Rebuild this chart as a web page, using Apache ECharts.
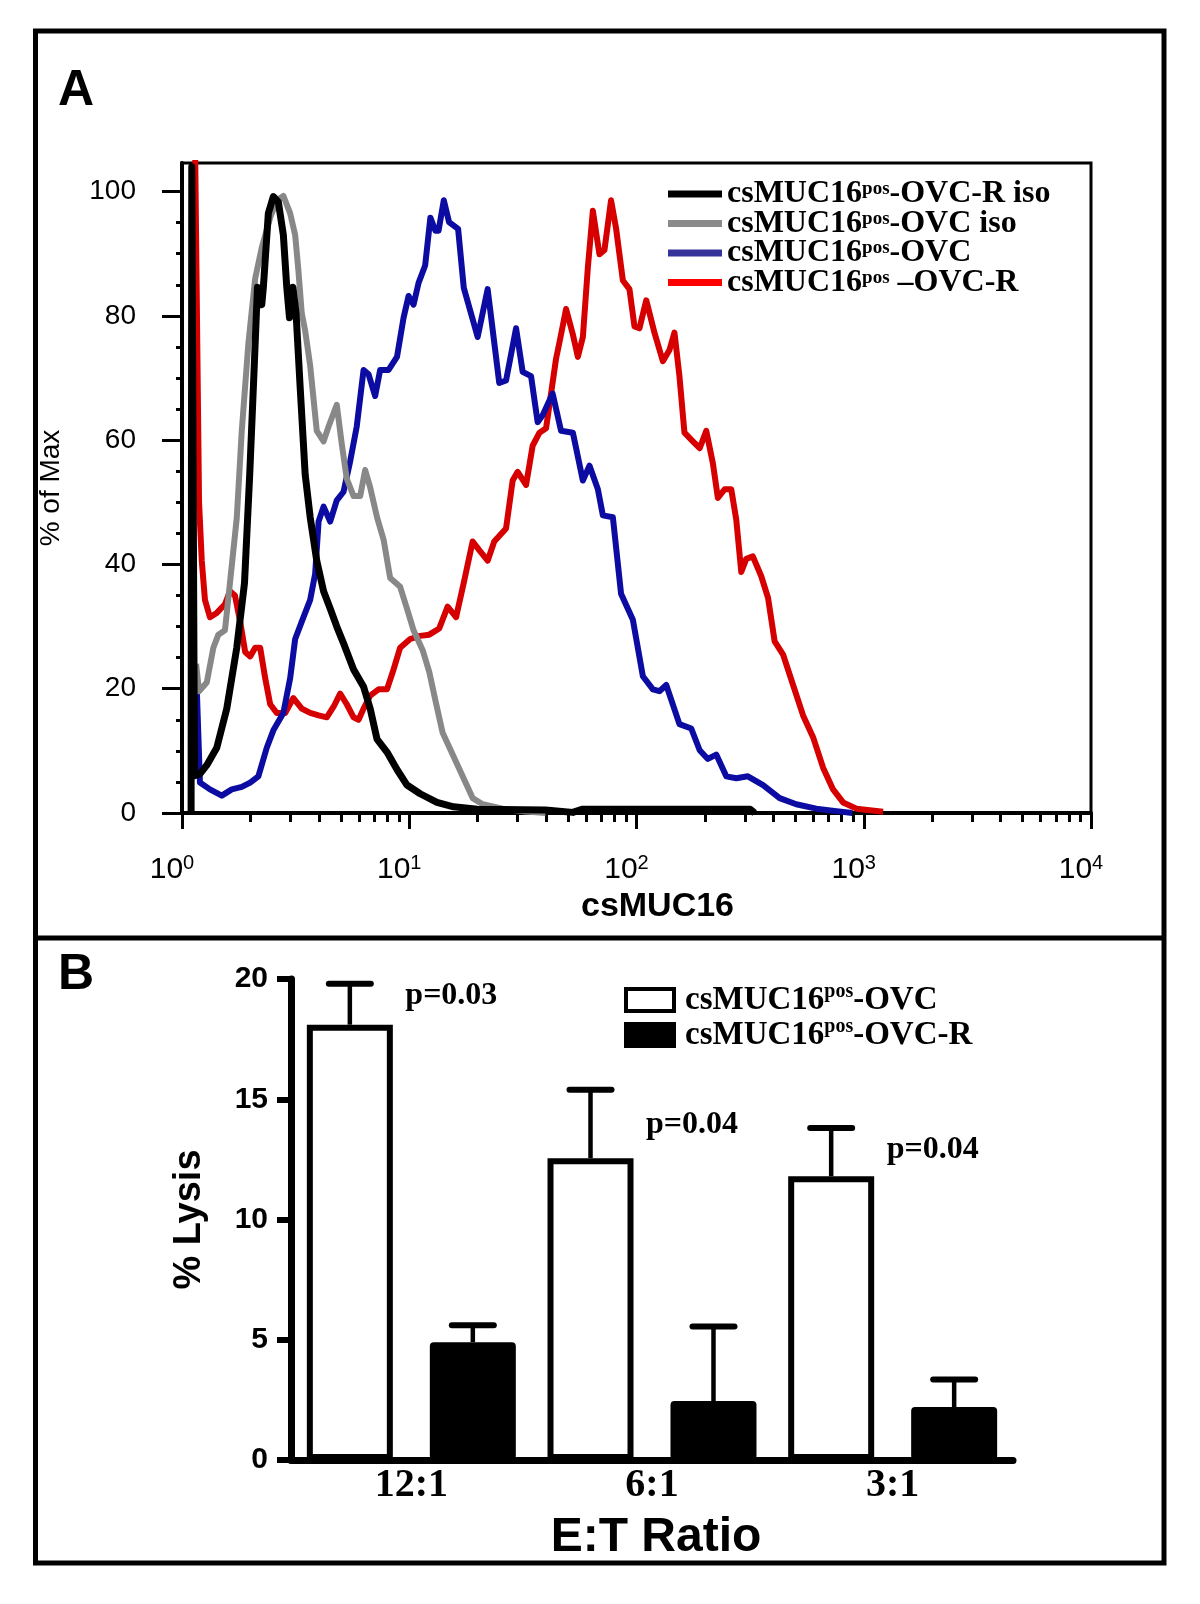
<!DOCTYPE html>
<html><head><meta charset="utf-8">
<script src="https://cdn.jsdelivr.net/npm/echarts@6/dist/echarts.min.js"></script>
<style>html,body{margin:0;padding:0;background:#fff}#c{width:1200px;height:1604px}</style>
</head><body><div id="c"></div>
<script>
const SANS = '"Liberation Sans", Arial, Helvetica, sans-serif';
const SERIF = '"Liberation Serif", "Times New Roman", Times, serif';

// ---------- Panel A : flow cytometry histograms ----------
// x = log10(csMUC16 intensity), y = % of Max
const xTickExponents = [0, 1, 2, 3, 4];
const yTicksA = [0, 20, 40, 60, 80, 100];
const yMinorTicksA = [5, 10, 15, 25, 30, 35, 45, 50, 55, 65, 70, 75, 85, 90, 95];
const histNames = ['csMUC16pos-OVC-R iso', 'csMUC16pos-OVC iso', 'csMUC16pos-OVC', 'csMUC16pos –OVC-R'];

const curveOvcRIso = [ // black
  [0.040,0],[0.043,104],[0.047,104],[0.055,6.0],[0.079,6.3],[0.109,7.7],[0.153,10.5],[0.197,16.8],
  [0.241,26.6],[0.275,37],[0.298,54.5],[0.318,72],[0.332,84.6],[0.351,81.8],[0.358,84.6],[0.380,96.5],
  [0.402,99.2],[0.424,98.3],[0.446,93],[0.461,84.6],[0.473,79.7],[0.488,84.6],[0.502,80.4],[0.520,68.5],
  [0.542,54.5],[0.564,47.6],[0.593,40.6],[0.623,35.7],[0.652,32.9],[0.681,30],[0.711,27.3],[0.755,23.1],
  [0.799,20.3],[0.828,16.8],[0.858,11.9],[0.902,9.8],[0.946,7],[0.990,4.5],[1.048,3.1],[1.122,1.7],
  [1.195,1.0],[1.300,0.6],[1.600,0.5],[1.720,0.1],[1.760,0.6],[2.500,0.6],[2.520,0]
];
const curveOvcIso = [ // gray
  [0.062,24],[0.075,19.6],[0.109,21],[0.138,26.6],[0.160,28.7],[0.189,29.4],[0.211,37],[0.241,47.5],
  [0.263,61.5],[0.292,75.5],[0.322,86],[0.351,91],[0.388,95.8],[0.417,98.6],[0.446,99.3],[0.476,96.5],
  [0.498,93],[0.512,87.4],[0.527,80.4],[0.542,77.6],[0.564,72],[0.593,61.5],[0.623,59.8],[0.645,62.2],
  [0.681,65.7],[0.703,59.4],[0.725,53.8],[0.755,51],[0.784,51],[0.806,55.2],[0.828,52.4],[0.858,47.6],
  [0.887,44],[0.916,37.8],[0.960,36.4],[0.990,32.9],[1.019,29.4],[1.059,26.2],[1.088,22.7],[1.117,17.8],
  [1.147,12.9],[1.191,9.4],[1.235,5.9],[1.279,2.4],[1.323,1.4],[1.411,0.7],[1.500,0.3],[1.600,0]
];
const curveOvc = [ // blue
  [0.065,20],[0.079,4.9],[0.123,3.8],[0.175,2.8],[0.219,3.8],[0.263,4.2],[0.300,4.9],[0.336,5.9],
  [0.373,10.5],[0.402,13.3],[0.446,16.1],[0.476,21.7],[0.498,28],[0.527,30.8],[0.564,34.3],[0.586,38.5],
  [0.601,46.9],[0.623,49.3],[0.652,46.9],[0.681,50.3],[0.711,51.7],[0.740,56.6],[0.769,62.2],[0.799,71.3],
  [0.821,70.6],[0.850,67.1],[0.872,71.3],[0.909,71.3],[0.946,73.4],[0.975,79.7],[0.997,83.2],[1.019,81.8],
  [1.041,85.3],[1.070,88.1],[1.093,95.8],[1.115,93.7],[1.129,93.7],[1.152,98.6],[1.175,95.1],[1.215,94],
  [1.240,84.5],[1.301,76.6],[1.345,84.3],[1.396,69.2],[1.426,69.6],[1.470,78],[1.499,71],[1.536,70.3],
  [1.565,62.9],[1.587,64],[1.631,67.5],[1.668,61.5],[1.720,61.2],[1.764,53.5],[1.793,55.9],[1.830,52.1],
  [1.852,47.9],[1.896,47.6],[1.932,35.3],[1.984,31.1],[2.028,22],[2.072,19.9],[2.101,19.6],[2.131,20.6],
  [2.189,14.3],[2.241,13.6],[2.278,10.1],[2.314,8.7],[2.351,9.4],[2.395,5.9],[2.439,5.6],[2.490,5.9],
  [2.557,4.5],[2.630,2.4],[2.703,1.4],[2.791,0.7],[2.880,0.3],[2.950,0]
];
const curveOvcR = [ // red
  [0.058,106],[0.075,50],[0.087,40.6],[0.101,34.3],[0.123,31.5],[0.153,32.2],[0.189,33.6],[0.211,35.7],
  [0.233,35],[0.256,30.8],[0.278,25.9],[0.300,25.2],[0.322,26.6],[0.344,26.6],[0.366,21.7],[0.388,17.5],
  [0.417,16.1],[0.454,16.1],[0.490,18.5],[0.527,16.8],[0.564,16.1],[0.601,15.7],[0.637,15.4],[0.667,17.1],
  [0.696,19.2],[0.725,17.5],[0.755,15.4],[0.777,15],[0.799,16.8],[0.828,18.9],[0.865,19.9],[0.902,19.9],
  [0.931,23.1],[0.960,26.6],[1.004,28],[1.048,28.5],[1.088,28.7],[1.132,29.7],[1.169,33.2],[1.206,31.5],
  [1.242,37.4],[1.279,43.7],[1.308,42.3],[1.345,40.6],[1.374,43.7],[1.426,45.8],[1.455,53.5],[1.477,54.9],
  [1.514,52.8],[1.543,59.1],[1.573,61.2],[1.602,61.9],[1.624,67.5],[1.646,73.1],[1.668,77],[1.690,81.1],
  [1.720,77],[1.742,73.4],[1.764,76.6],[1.786,87.8],[1.808,96.9],[1.837,89.9],[1.859,90.6],[1.888,98.6],
  [1.910,94.1],[1.940,85.7],[1.969,84.3],[1.991,78.3],[2.013,78],[2.043,82.5],[2.079,77.3],[2.116,72.7],
  [2.145,74.5],[2.167,77.3],[2.189,70.3],[2.211,61.2],[2.248,59.8],[2.278,58.7],[2.307,61.5],[2.336,56.3],
  [2.358,50.7],[2.388,52.1],[2.417,52.1],[2.439,47.2],[2.461,38.8],[2.483,40.9],[2.512,41.3],[2.549,38.1],
  [2.579,34.6],[2.608,27.6],[2.645,25.5],[2.689,20.6],[2.733,15.7],[2.777,12.2],[2.821,7.3],[2.865,3.8],
  [2.909,1.7],[2.968,0.7],[3.085,0.2]
];

// ---------- Panel B : lysis bar chart ----------
const ratios = ['12:1', '6:1', '3:1'];
const barNames = ['csMUC16pos-OVC', 'csMUC16pos-OVC-R'];
const lysisOvc = [18.1, 12.55, 11.8];
const lysisOvcUpper = [19.8, 15.4, 13.8];
const lysisOvcR = [4.9, 2.45, 2.2];
const lysisOvcRUpper = [5.6, 5.55, 3.35];
const pValues = ['p=0.03', 'p=0.04', 'p=0.04'];
const pLabelLevel = [19.3, 13.95, 12.9];
const yTicksB = [0, 5, 10, 15, 20];

// log-scale minor tick positions (2..9 in each decade)
const xMinorTicks = [];
for (let d = 0; d < 4; d++) for (let k = 2; k <= 9; k++) xMinorTicks.push(d + Math.log10(k));

const BAR_W = 86, BAR_GAP = 0.43;

function legendFmt(name) {
  const i = name.indexOf('pos');
  return '{n|' + name.slice(0, i) + '}{s|pos}{n|' + name.slice(i + 3) + '}';
}

const errData = [];
ratios.forEach((r, i) => {
  errData.push([i, lysisOvc[i], lysisOvcUpper[i], -1]);
  errData.push([i, lysisOvcR[i], lysisOvcRUpper[i], 1]);
});

function renderErr(params, api) {
  const i = api.value(0), lo = api.value(1), hi = api.value(2), side = api.value(3);
  const b = api.coord([i, lo]);
  const t = api.coord([i, hi]);
  const x = b[0] + side * (BAR_W + BAR_W * BAR_GAP) / 2;
  return {
    type: 'group',
    children: [
      { type: 'line', shape: { x1: x, y1: b[1], x2: x, y2: t[1] }, style: { stroke: '#000', lineWidth: 4.5 } },
      { type: 'line', shape: { x1: x - 21, y1: t[1], x2: x + 21, y2: t[1] }, style: { stroke: '#000', lineWidth: 6, lineCap: 'round' } }
    ]
  };
}

function renderP(params, api) {
  const pt = api.coord([api.value(0), api.value(1)]);
  return {
    type: 'text', x: pt[0] - 6, y: pt[1],
    style: { text: pValues[params.dataIndex], fill: '#000', opacity: 1,
      fontFamily: SERIF, fontWeight: 'bold', fontSize: 32, align: 'left', verticalAlign: 'middle' }
  };
}

const lineColors = { black: '#000000', gray: '#888888', blue: '#0c0ca2', red: '#d60000' };

const chart = echarts.init(document.getElementById('c'), null, { renderer: 'canvas', width: 1200, height: 1604 });

chart.setOption({
  animation: false,
  backgroundColor: '#ffffff',
  title: [
    { text: 'A', left: 58, top: 66, padding: 0, textStyle: { fontFamily: SANS, fontWeight: 'bold', fontSize: 50, color: '#000' } },
    { text: 'B', left: 58, top: 950, padding: 0, textStyle: { fontFamily: SANS, fontWeight: 'bold', fontSize: 50, color: '#000' } }
  ],
  graphic: [
    { type: 'rect', silent: true, shape: { x: 35.5, y: 31, width: 1128.5, height: 1532 }, style: { fill: 'none', stroke: '#000', lineWidth: 5 } },
    { type: 'line', silent: true, shape: { x1: 35.5, y1: 938, x2: 1164, y2: 938 }, style: { stroke: '#000', lineWidth: 5 } }
  ],
  grid: [
    { left: 182, top: 163, width: 909, height: 650, show: true, borderColor: '#000', borderWidth: 3, backgroundColor: 'transparent' },
    { left: 291, top: 979, width: 722, height: 481 }
  ],
  legend: [
    {
      left: 663, top: 173, orient: 'vertical', icon: 'rect', itemWidth: 54, itemHeight: 7, itemGap: -2.5,
      selectedMode: false, formatter: legendFmt,
      data: [
        { name: histNames[0], itemStyle: { color: lineColors.black, borderWidth: 0 } },
        { name: histNames[1], itemStyle: { color: '#8a8a8a', borderWidth: 0 } },
        { name: histNames[2], itemStyle: { color: '#333399', borderWidth: 0 } },
        { name: histNames[3], itemStyle: { color: '#ff0000', borderWidth: 0 } }
      ],
      textStyle: {
        rich: {
          n: { fontFamily: SERIF, fontWeight: 'bold', fontSize: 32, lineHeight: 28, color: '#000' },
          s: { fontFamily: SERIF, fontWeight: 'bold', fontSize: 19, lineHeight: 16, verticalAlign: 'top', color: '#000' }
        }
      }
    },
    {
      left: 619, top: 976.5, orient: 'vertical', icon: 'rect', itemWidth: 48, itemHeight: 22, itemGap: 0,
      selectedMode: false, formatter: legendFmt,
      data: [
        { name: barNames[0], itemStyle: { color: '#ffffff', borderColor: '#000', borderWidth: 4 } },
        { name: barNames[1], itemStyle: { color: '#000000', borderColor: '#000', borderWidth: 4 } }
      ],
      textStyle: {
        padding: [0, 0, 0, 6],
        rich: {
          n: { fontFamily: SERIF, fontWeight: 'bold', fontSize: 33, lineHeight: 37, color: '#000' },
          s: { fontFamily: SERIF, fontWeight: 'bold', fontSize: 20, lineHeight: 22, verticalAlign: 'top', color: '#000' }
        }
      }
    }
  ],
  xAxis: [
    {
      gridIndex: 0, type: 'value', min: 0, max: 4, position: 'bottom',
      axisLine: { show: true, onZero: false, lineStyle: { color: '#000', width: 4 } },
      axisTick: { show: true, customValues: xTickExponents, length: 16, lineStyle: { color: '#000', width: 3 } },
      axisLabel: {
        customValues: xTickExponents, margin: 40, padding: [0, 20, 0, 0],
        formatter: v => '{b|10}{s|' + Math.round(v) + '}',
        rich: {
          b: { fontFamily: SANS, fontSize: 30, lineHeight: 34, color: '#000' },
          s: { fontFamily: SANS, fontSize: 20, lineHeight: 20, verticalAlign: 'top', color: '#000' }
        }
      },
      splitLine: { show: false },
      name: 'csMUC16', nameLocation: 'middle', nameGap: 77,
      nameTextStyle: { fontFamily: SANS, fontWeight: 'bold', fontSize: 34, color: '#000', padding: [0, 0, 0, 42] }
    },
    {
      gridIndex: 0, type: 'value', min: 0, max: 4, position: 'bottom',
      axisLine: { show: false },
      axisTick: { show: true, customValues: xMinorTicks, length: 9, lineStyle: { color: '#000', width: 3 } },
      axisLabel: { show: false }, splitLine: { show: false }
    },
    {
      gridIndex: 1, type: 'category', data: ratios,
      axisLine: { show: true, lineStyle: { color: '#000', width: 7, cap: 'round' } },
      axisTick: { show: false },
      axisLabel: { fontFamily: SERIF, fontWeight: 'bold', fontSize: 40, color: '#000', margin: 6 },
      name: 'E:T Ratio', nameLocation: 'middle', nameGap: 54,
      nameTextStyle: { fontFamily: SANS, fontWeight: 'bold', fontSize: 48, color: '#000', padding: [0, 0, 0, 8] }
    }
  ],
  yAxis: [
    {
      gridIndex: 0, type: 'value', min: 0, max: 104.6, position: 'left',
      axisLine: { show: true, onZero: false, lineStyle: { color: '#000', width: 4 } },
      axisTick: { show: true, customValues: yTicksA, length: 20, lineStyle: { color: '#000', width: 3 } },
      axisLabel: { customValues: yTicksA, margin: 46, fontFamily: SANS, fontSize: 28, color: '#000' },
      splitLine: { show: false },
      name: '% of Max', nameLocation: 'middle', nameGap: 117, nameRotate: 90,
      nameTextStyle: { fontFamily: SANS, fontSize: 28, color: '#000' }
    },
    {
      gridIndex: 0, type: 'value', min: 0, max: 104.6, position: 'left',
      axisLine: { show: false },
      axisTick: { show: true, customValues: yMinorTicksA, length: 6, lineStyle: { color: '#000', width: 3 } },
      axisLabel: { show: false }, splitLine: { show: false }
    },
    {
      gridIndex: 1, type: 'value', min: 0, max: 20, interval: 5,
      axisLine: { show: true, lineStyle: { color: '#000', width: 7 } },
      axisTick: { show: true, customValues: yTicksB, length: 14, lineStyle: { color: '#000', width: 6 } },
      axisLabel: { customValues: yTicksB, margin: 23, fontFamily: SANS, fontWeight: 'bold', fontSize: 30, color: '#000' },
      splitLine: { show: false },
      name: '% Lysis', nameLocation: 'middle', nameGap: 82, nameRotate: 90,
      nameTextStyle: { fontFamily: SANS, fontWeight: 'bold', fontSize: 38, color: '#000' }
    }
  ],
  series: [
    { type: 'line', name: histNames[3], data: curveOvcR, xAxisIndex: 0, yAxisIndex: 0, symbol: 'none', showSymbol: false, silent: true,
      lineStyle: { color: lineColors.red, width: 6, join: 'round' }, itemStyle: { color: lineColors.red } },
    { type: 'line', name: histNames[2], data: curveOvc, xAxisIndex: 0, yAxisIndex: 0, symbol: 'none', showSymbol: false, silent: true,
      lineStyle: { color: lineColors.blue, width: 6, join: 'round' }, itemStyle: { color: lineColors.blue } },
    { type: 'line', name: histNames[1], data: curveOvcIso, xAxisIndex: 0, yAxisIndex: 0, symbol: 'none', showSymbol: false, silent: true,
      lineStyle: { color: lineColors.gray, width: 6, join: 'round' }, itemStyle: { color: lineColors.gray } },
    { type: 'line', name: histNames[0], data: curveOvcRIso, xAxisIndex: 0, yAxisIndex: 0, symbol: 'none', showSymbol: false, silent: true,
      lineStyle: { color: lineColors.black, width: 7, join: 'round' }, itemStyle: { color: lineColors.black } },
    { type: 'bar', name: barNames[0], data: lysisOvc, xAxisIndex: 2, yAxisIndex: 2, barWidth: BAR_W, barGap: (BAR_GAP * 100) + '%', silent: true,
      itemStyle: { color: '#ffffff', borderColor: '#000', borderWidth: 6 } },
    { type: 'bar', name: barNames[1], data: lysisOvcR, xAxisIndex: 2, yAxisIndex: 2, barWidth: BAR_W, barGap: (BAR_GAP * 100) + '%', silent: true,
      itemStyle: { color: '#000000', borderColor: '#000', borderWidth: 2, borderRadius: 3 } },
    { type: 'custom', name: 'SEM', data: errData, xAxisIndex: 2, yAxisIndex: 2, renderItem: renderErr, silent: true, clip: false,
      encode: { x: 0, y: 2 }, z: 3 },
    { type: 'custom', name: 'p', data: pLabelLevel.map((v, i) => [i, v]), xAxisIndex: 2, yAxisIndex: 2, renderItem: renderP, silent: true, clip: false,
      encode: { x: 0, y: 1 }, z: 4 }
  ]
});
</script>
</body></html>
